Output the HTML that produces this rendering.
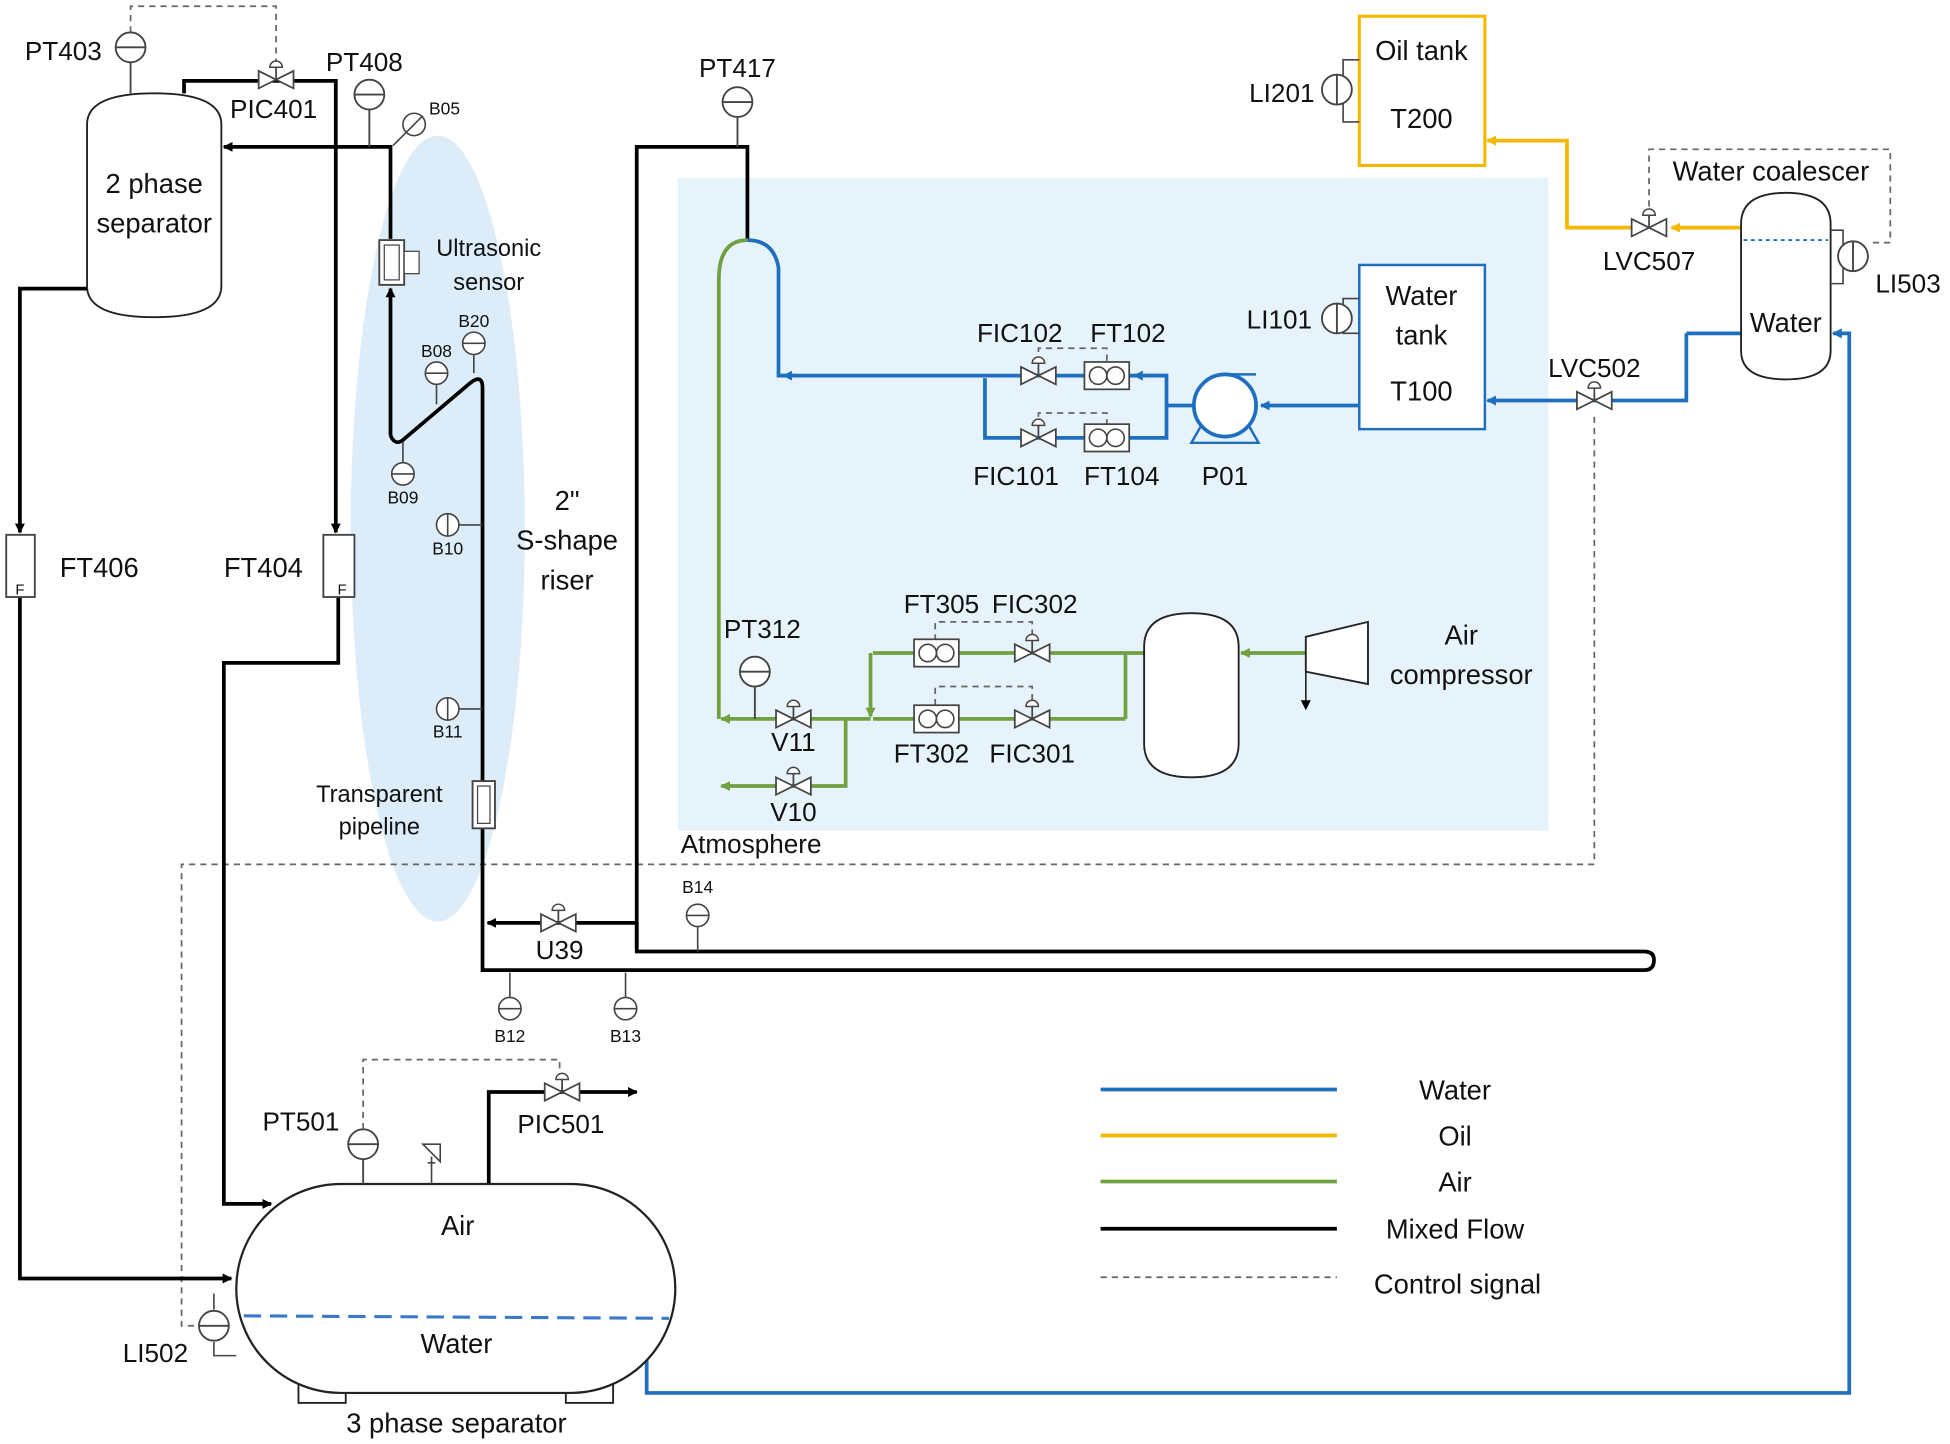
<!DOCTYPE html>
<html><head><meta charset="utf-8"><style>
html,body{margin:0;padding:0;background:#fff}
svg{display:block}
text{font-family:"Liberation Sans",sans-serif;fill:#111}
</style></head><body>
<svg width="1950" height="1444" viewBox="0 0 1568 1161" xmlns="http://www.w3.org/2000/svg">
<defs>
<marker id="ak" markerWidth="8" markerHeight="8" refX="7" refY="4" orient="auto" markerUnits="userSpaceOnUse"><path d="M0,0 L8,4 L0,8 z" fill="#000"/></marker>
<marker id="ab" markerWidth="8" markerHeight="8" refX="7" refY="4" orient="auto" markerUnits="userSpaceOnUse"><path d="M0,0 L8,4 L0,8 z" fill="#1f6fc0"/></marker>
<marker id="ag" markerWidth="8" markerHeight="8" refX="7" refY="4" orient="auto" markerUnits="userSpaceOnUse"><path d="M0,0 L8,4 L0,8 z" fill="#70a040"/></marker>
<marker id="ao" markerWidth="8" markerHeight="8" refX="7" refY="4" orient="auto" markerUnits="userSpaceOnUse"><path d="M0,0 L8,4 L0,8 z" fill="#f5b800"/></marker>
<g id="inst"><circle cx="0" cy="0" r="12" fill="#fff" stroke="#444" stroke-width="1.5"/><line x1="-12" y1="0" x2="12" y2="0" stroke="#444" stroke-width="1.5"/></g>
<g id="sinst"><circle cx="0" cy="0" r="9" fill="#fff" stroke="#444" stroke-width="1.3"/><line x1="-9" y1="0" x2="9" y2="0" stroke="#444" stroke-width="1.3"/></g>
<g id="valve"><path d="M-14,-7 L14,7 L14,-7 L-14,7 z" fill="#fff" stroke="#444" stroke-width="1.4"/><line x1="0" y1="0" x2="0" y2="-10" stroke="#444" stroke-width="1.4"/><path d="M-5,-10 A5,5 0 0 1 5,-10 z" fill="#fff" stroke="#444" stroke-width="1.2"/></g>
<g id="ft"><rect x="-18" y="-11" width="36" height="22" fill="#fff" stroke="#444" stroke-width="1.4"/><circle cx="-7" cy="0" r="7" fill="none" stroke="#444" stroke-width="1.3"/><circle cx="7" cy="0" r="7" fill="none" stroke="#444" stroke-width="1.3"/></g>
</defs>
<rect width="1568" height="1161" fill="#fff"/>
<rect x="545" y="143" width="700" height="525" fill="#e6f3fb"/>
<ellipse cx="352" cy="425" rx="70" ry="316" fill="#dcedf9"/>

<!-- control dashed lines -->
<g fill="none" stroke="#666" stroke-width="1.4" stroke-dasharray="5,4">
<path d="M105,26 V5 H222 V52"/>
<path d="M1282,335 V695 H146 V1066 H160"/>
<path d="M292,908 V852 H450 V868"/>
<path d="M1326,175 V120 H1520 V195 H1502"/>
<path d="M835,292 V280 H890 V292"/>
<path d="M835,344 V332 H890 V344"/>
<path d="M752,515 V500 H830 V515"/>
<path d="M752,567 V552 H830 V567"/>
</g>

<!-- 2 phase separator -->
<path d="M70,100 Q70,75 124,75 Q178,75 178,100 V230 Q178,255 124,255 Q70,255 70,230 z" fill="#fff" stroke="#222" stroke-width="1.5"/>
<text x="124" y="155" font-size="22" text-anchor="middle">2 phase</text>
<text x="124" y="187" font-size="22" text-anchor="middle">separator</text>
<line x1="105" y1="50" x2="105" y2="75" stroke="#444" stroke-width="1.5"/>
<use href="#inst" x="105" y="38"/>
<text x="20" y="48" font-size="21">PT403</text>

<g fill="none" stroke="#000" stroke-width="3">
<path d="M148,75 V65 H270 V428" marker-end="url(#ak)"/>
<path d="M314,192 V118 H180" marker-end="url(#ak)"/>
<path d="M314,350 V232" marker-end="url(#ak)"/>
<path d="M314,350 Q318,360 326,352 L378,308 Q388,300 388,312 V780 H1322 Q1330,780 1330,772 Q1330,765 1322,765 H512 V118 H601 V193"/>
<path d="M70,232 H16 V428" marker-end="url(#ak)"/>
<path d="M16,480 V1028 H186" marker-end="url(#ak)"/>
<path d="M272,480 V533 H180 V968 H218" marker-end="url(#ak)"/>
<path d="M512,742 H392" marker-end="url(#ak)"/>
<path d="M512,742 V762" />
<path d="M393,952 V878 H512" marker-end="url(#ak)"/>
</g>
<use href="#valve" x="222" y="64"/>
<text x="220" y="95" font-size="21" text-anchor="middle">PIC401</text>
<line x1="297" y1="88" x2="297" y2="118" stroke="#444" stroke-width="1.5"/>
<use href="#inst" x="297" y="76"/>
<text x="262" y="57" font-size="21">PT408</text>
<circle cx="333" cy="100" r="9" fill="#fff" stroke="#444" stroke-width="1.3"/><line x1="326" y1="107" x2="340" y2="93" stroke="#444" stroke-width="1.3"/>
<line x1="326" y1="107" x2="316" y2="117" stroke="#444" stroke-width="1.3"/>
<text x="345" y="92" font-size="14">B05</text>

<!-- ultrasonic -->
<rect x="305" y="193" width="20" height="36" fill="#fff" stroke="#444" stroke-width="1.5"/>
<rect x="309" y="197" width="12" height="28" fill="#fff" stroke="#444" stroke-width="1"/>
<rect x="325" y="202" width="12" height="18" fill="#fff" stroke="#444" stroke-width="1"/>
<text x="393" y="206" font-size="19" text-anchor="middle">Ultrasonic</text>
<text x="393" y="233" font-size="19" text-anchor="middle">sensor</text>

<!-- riser instruments -->
<line x1="381" y1="285" x2="381" y2="300" stroke="#444" stroke-width="1.3"/><use href="#sinst" x="381" y="276"/><text x="381" y="263" font-size="14" text-anchor="middle">B20</text>
<line x1="351" y1="309" x2="351" y2="325" stroke="#444" stroke-width="1.3"/><use href="#sinst" x="351" y="300"/><text x="351" y="287" font-size="14" text-anchor="middle">B08</text>
<line x1="324" y1="372" x2="324" y2="355" stroke="#444" stroke-width="1.3"/><use href="#sinst" x="324" y="381"/><text x="324" y="405" font-size="14" text-anchor="middle">B09</text>
<line x1="369" y1="422" x2="388" y2="422" stroke="#444" stroke-width="1.3"/><g transform="rotate(90 360 422)"><use href="#sinst" x="360" y="422"/></g><text x="360" y="446" font-size="14" text-anchor="middle">B10</text>
<line x1="369" y1="570" x2="388" y2="570" stroke="#444" stroke-width="1.3"/><g transform="rotate(90 360 570)"><use href="#sinst" x="360" y="570"/></g><text x="360" y="593" font-size="14" text-anchor="middle">B11</text>
<rect x="380" y="628" width="18" height="38" fill="#fff" stroke="#444" stroke-width="1.5"/><rect x="384" y="632" width="10" height="30" fill="none" stroke="#444" stroke-width="1"/>
<text x="305" y="645" font-size="19" text-anchor="middle">Transparent</text>
<text x="305" y="671" font-size="19" text-anchor="middle">pipeline</text>
<text x="456" y="410" font-size="22" text-anchor="middle">2"</text>
<text x="456" y="442" font-size="22" text-anchor="middle">S-shape</text>
<text x="456" y="474" font-size="22" text-anchor="middle">riser</text>

<!-- flow transmitters -->
<rect x="5" y="430" width="23" height="50" fill="#fff" stroke="#444" stroke-width="1.5"/><text x="16" y="478" font-size="12" text-anchor="middle">F</text>
<text x="48" y="464" font-size="22">FT406</text>
<rect x="260" y="430" width="25" height="50" fill="#fff" stroke="#444" stroke-width="1.5"/><text x="275" y="478" font-size="12" text-anchor="middle">F</text>
<text x="180" y="464" font-size="22">FT404</text>

<!-- PT417 -->
<line x1="593" y1="94" x2="593" y2="118" stroke="#444" stroke-width="1.5"/><use href="#inst" x="593" y="82"/>
<text x="593" y="62" font-size="21" text-anchor="middle">PT417</text>

<!-- bottom pipe instruments -->
<use href="#valve" x="449" y="742"/><text x="450" y="771" font-size="21" text-anchor="middle">U39</text>
<line x1="561" y1="745" x2="561" y2="765" stroke="#444" stroke-width="1.3"/><use href="#sinst" x="561" y="736"/><text x="561" y="718" font-size="14" text-anchor="middle">B14</text>
<line x1="410" y1="802" x2="410" y2="782" stroke="#444" stroke-width="1.3"/><use href="#sinst" x="410" y="811"/><text x="410" y="838" font-size="14" text-anchor="middle">B12</text>
<line x1="503" y1="802" x2="503" y2="782" stroke="#444" stroke-width="1.3"/><use href="#sinst" x="503" y="811"/><text x="503" y="838" font-size="14" text-anchor="middle">B13</text>

<!-- blue water lines -->
<g fill="none" stroke="#1f6fc0" stroke-width="3">
<path d="M601,193 Q622,193 626,215 V302 H938 V352 H792 V304" />
<path d="M938,302 H912" marker-end="url(#ab)"/>
<path d="M1093,326 H1014" marker-end="url(#ab)"/>
<path d="M960,326 H938"/>
<path d="M1356,268 V322 H1196" marker-end="url(#ab)"/>
<path d="M1356,268 H1400"/>
<path d="M520,1085 V1120 H1487 V268 H1474" marker-end="url(#ab)"/>
<path d="M626,302 H630"/>
</g>
<path d="M640,302 H630" stroke="#1f6fc0" stroke-width="3" marker-end="url(#ab)"/>
<use href="#valve" x="835" y="302"/><use href="#ft" x="890" y="302"/>
<use href="#valve" x="835" y="352"/><use href="#ft" x="890" y="352"/>
<text x="820" y="275" font-size="21" text-anchor="middle">FIC102</text>
<text x="907" y="275" font-size="21" text-anchor="middle">FT102</text>
<text x="817" y="390" font-size="21" text-anchor="middle">FIC101</text>
<text x="902" y="390" font-size="21" text-anchor="middle">FT104</text>
<circle cx="985" cy="326" r="25" fill="#fff" stroke="#1f6fc0" stroke-width="3"/>
<path d="M985,301 H1010 M966,342 L958,356 H1012 L1004,342" fill="none" stroke="#1f6fc0" stroke-width="2"/>
<text x="985" y="390" font-size="21" text-anchor="middle">P01</text>
<rect x="1093" y="213" width="101" height="132" fill="#fff" stroke="#1f6fc0" stroke-width="2"/>
<text x="1143" y="245" font-size="22" text-anchor="middle">Water</text>
<text x="1143" y="277" font-size="22" text-anchor="middle">tank</text>
<text x="1143" y="322" font-size="22" text-anchor="middle">T100</text>
<path d="M1093,240 H1080 V268 H1093" fill="none" stroke="#444" stroke-width="1.3"/><g transform="rotate(90 1075 256)"><use href="#inst" x="1075" y="256"/></g>
<text x="1055" y="264" font-size="21" text-anchor="end">LI101</text>
<use href="#valve" x="1282" y="322"/><text x="1282" y="303" font-size="21" text-anchor="middle">LVC502</text>

<!-- green air -->
<g fill="none" stroke="#70a040" stroke-width="3">
<path d="M601,193 Q578,193 578,225 V578"/>
<path d="M700,578 H580" marker-end="url(#ag)"/>
<path d="M680,578 V632 H580" marker-end="url(#ag)"/>
<path d="M905,525 H702" />
<path d="M700,525 V576" marker-end="url(#ag)"/>
<path d="M905,578 H702" />
<path d="M905,525 V578"/>
<path d="M920,525 H905"/>
<path d="M1050,525 H998" marker-end="url(#ag)"/>
</g>
<use href="#valve" x="638" y="578"/><use href="#valve" x="638" y="632"/>
<line x1="607" y1="552" x2="607" y2="578" stroke="#444" stroke-width="1.5"/><use href="#inst" x="607" y="540"/>
<text x="613" y="513" font-size="21" text-anchor="middle">PT312</text>
<text x="638" y="604" font-size="21" text-anchor="middle">V11</text>
<text x="638" y="660" font-size="21" text-anchor="middle">V10</text>
<text x="604" y="686" font-size="21" text-anchor="middle">Atmosphere</text>
<use href="#ft" x="753" y="525"/><use href="#valve" x="830" y="525"/>
<use href="#ft" x="753" y="578"/><use href="#valve" x="830" y="578"/>
<text x="757" y="493" font-size="21" text-anchor="middle">FT305</text>
<text x="832" y="493" font-size="21" text-anchor="middle">FIC302</text>
<text x="749" y="613" font-size="21" text-anchor="middle">FT302</text>
<text x="830" y="613" font-size="21" text-anchor="middle">FIC301</text>
<path d="M920,520 Q920,493 958,493 Q996,493 996,520 V598 Q996,625 958,625 Q920,625 920,598 z" fill="#fff" stroke="#222" stroke-width="1.5"/>
<path d="M1050,512 L1100,500 V550 L1050,540 z" fill="#fff" stroke="#222" stroke-width="1.5"/>
<line x1="1050" y1="540" x2="1050" y2="570" stroke="#222" stroke-width="1.3" marker-end="url(#ak)"/>
<text x="1175" y="518" font-size="22" text-anchor="middle">Air</text>
<text x="1175" y="550" font-size="22" text-anchor="middle">compressor</text>

<!-- oil -->
<rect x="1093" y="13" width="101" height="120" fill="#fff" stroke="#f5b800" stroke-width="2.5"/>
<text x="1143" y="48" font-size="22" text-anchor="middle">Oil tank</text>
<text x="1143" y="103" font-size="22" text-anchor="middle">T200</text>
<path d="M1093,48 H1080 V98 H1093" fill="none" stroke="#444" stroke-width="1.3"/><g transform="rotate(90 1075 72)"><use href="#inst" x="1075" y="72"/></g>
<text x="1057" y="82" font-size="21" text-anchor="end">LI201</text>
<g fill="none" stroke="#f5b800" stroke-width="3">
<path d="M1400,183 H1344" marker-end="url(#ao)"/>
<path d="M1312,183 H1260 V113 H1196" marker-end="url(#ao)"/>
</g>
<use href="#valve" x="1326" y="183"/>
<text x="1326" y="217" font-size="21" text-anchor="middle">LVC507</text>
<path d="M1400,180 Q1400,155 1436,155 Q1472,155 1472,180 V282 Q1472,305 1436,305 Q1400,305 1400,282 z" fill="#fff" stroke="#222" stroke-width="1.5"/>
<line x1="1402" y1="193" x2="1470" y2="193" stroke="#1f6fc0" stroke-width="1.5" stroke-dasharray="3,3"/>
<text x="1436" y="267" font-size="22" text-anchor="middle">Water</text>
<text x="1424" y="145" font-size="22" text-anchor="middle">Water coalescer</text>
<path d="M1472,185 H1482 V228 H1472" fill="none" stroke="#444" stroke-width="1.3"/><g transform="rotate(90 1490 206)"><use href="#inst" x="1490" y="206"/></g>
<text x="1508" y="235" font-size="21">LI503</text>

<!-- 3 phase separator -->
<rect x="240" y="1098" width="38" height="30" fill="#fff" stroke="#222" stroke-width="1.5"/>
<rect x="455" y="1098" width="38" height="30" fill="#fff" stroke="#222" stroke-width="1.5"/>
<rect x="190" y="952" width="353" height="168" rx="84" ry="84" fill="#fff" stroke="#222" stroke-width="1.8"/>
<line x1="196" y1="1058" x2="538" y2="1060" stroke="#3a78c8" stroke-width="2.5" stroke-dasharray="14,7"/>
<text x="368" y="993" font-size="22" text-anchor="middle">Air</text>
<text x="367" y="1088" font-size="22" text-anchor="middle">Water</text>
<text x="367" y="1152" font-size="22" text-anchor="middle">3 phase separator</text>
<line x1="292" y1="932" x2="292" y2="952" stroke="#444" stroke-width="1.5"/><use href="#inst" x="292" y="920"/>
<text x="242" y="909" font-size="21" text-anchor="middle">PT501</text>
<use href="#valve" x="452" y="878"/>
<text x="451" y="911" font-size="21" text-anchor="middle">PIC501</text>
<path d="M347,952 V930 M340,920 L354,934 L354,920 z M344,935 L350,935" fill="none" stroke="#444" stroke-width="1.3"/>
<path d="M172,1053 V1040 M172,1079 V1090 H190" fill="none" stroke="#444" stroke-width="1.3"/>
<use href="#inst" x="172" y="1066"/>
<text x="125" y="1095" font-size="21" text-anchor="middle">LI502</text>

<!-- legend -->
<line x1="885" y1="876" x2="1075" y2="876" stroke="#1f6fc0" stroke-width="3"/>
<line x1="885" y1="913" x2="1075" y2="913" stroke="#f5b800" stroke-width="3"/>
<line x1="885" y1="950" x2="1075" y2="950" stroke="#70a040" stroke-width="3"/>
<line x1="885" y1="988" x2="1075" y2="988" stroke="#000" stroke-width="3"/>
<line x1="885" y1="1027" x2="1075" y2="1027" stroke="#666" stroke-width="1.4" stroke-dasharray="5,4"/>
<text x="1170" y="884" font-size="22" text-anchor="middle">Water</text>
<text x="1170" y="921" font-size="22" text-anchor="middle">Oil</text>
<text x="1170" y="958" font-size="22" text-anchor="middle">Air</text>
<text x="1170" y="996" font-size="22" text-anchor="middle">Mixed Flow</text>
<text x="1172" y="1040" font-size="22" text-anchor="middle">Control signal</text>
</svg>
</body></html>
